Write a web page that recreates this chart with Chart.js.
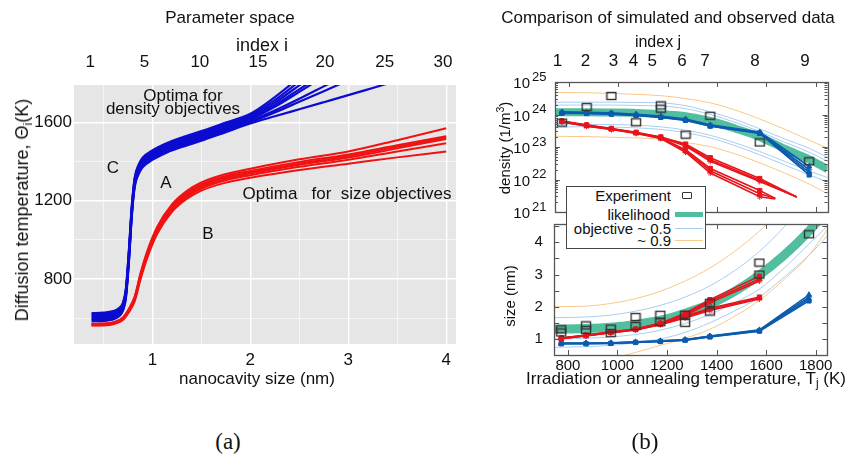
<!DOCTYPE html>
<html><head><meta charset="utf-8">
<script src="https://cdn.jsdelivr.net/npm/chart.js@4.4.1/dist/chart.umd.min.js"></script>
<style>
body{margin:0;background:#fff;}
#root{position:relative;width:846px;height:462px;overflow:hidden;font-family:"Liberation Sans",Arial,sans-serif;color:#111;}
canvas{position:absolute;}
.t{position:absolute;transform:translate(-50%,-50%);white-space:pre;line-height:1;}
.r{position:absolute;transform:translateY(-50%);white-space:pre;line-height:1;text-align:right;}
.rot{transform:translate(-50%,-50%) rotate(-90deg);}
sub{font-size:0.7em;vertical-align:-0.3em;line-height:0;}
sup{font-size:0.7em;vertical-align:0.5em;line-height:0;}
</style></head>
<body><div id="root">
<canvas id="ca" width="470" height="400" style="left:0;top:0"></canvas>
<canvas id="cd" width="376" height="218" style="left:470px;top:0"></canvas>
<canvas id="cs" width="376" height="244" style="left:470px;top:218px"></canvas>

<div class="t" style="left:230px;top:17px;font-size:17px">Parameter space</div>
<div class="t" style="left:262px;top:45px;font-size:18px">index i</div>
<div class="t rot" style="left:22px;top:210px;font-size:18px">Diffusion temperature, Θ<sub>i</sub>(K)</div>
<div class="t" style="left:257px;top:378px;font-size:17px">nanocavity size (nm)</div>
<div class="t" style="left:183px;top:95px;font-size:17px">Optima for</div>
<div class="t" style="left:173px;top:108px;font-size:17px">density objectives</div>
<div class="t" style="left:113px;top:167px;font-size:17px">C</div>
<div class="t" style="left:166px;top:182px;font-size:17px">A</div>
<div class="t" style="left:208px;top:233px;font-size:17px">B</div>
<div class="t" style="left:347px;top:193px;font-size:17px">Optima   for  size objectives</div>

<div class="t" style="left:668px;top:17px;font-size:17px">Comparison of simulated and observed data</div>
<div class="t" style="left:658px;top:42px;font-size:16px">index j</div>
<div class="t rot" style="left:504px;top:148px;font-size:15px">density (1/m<sup>3</sup>)</div>
<div class="t rot" style="left:509px;top:296px;font-size:15px">size (nm)</div>
<div class="t" style="left:686px;top:378px;font-size:17px">Irradiation or annealing temperature, T<sub>j</sub> (K)</div>

<div style="position:absolute;left:566px;top:186px;width:140px;height:63px;border:1px solid #444;background:#fff;box-sizing:border-box"></div>
<div class="r" style="right:175px;top:195px;font-size:15px">Experiment</div>
<div class="r" style="right:176px;top:214px;font-size:15px">likelihood</div>
<div class="r" style="right:175px;top:228px;font-size:15px">objective ~ 0.5</div>
<div class="r" style="right:175px;top:240px;font-size:15px">~ 0.9</div>
<div style="position:absolute;left:682px;top:192px;width:8px;height:5px;border:1.3px solid #333;border-radius:1px"></div>
<div style="position:absolute;left:675px;top:211.5px;width:28px;height:5px;background:#50be9f"></div>
<div style="position:absolute;left:675px;top:228px;width:28px;height:1px;background:#a9cdf0"></div>
<div style="position:absolute;left:675px;top:240px;width:28px;height:1px;background:#f8c98a"></div>

<div class="t" style="left:228px;top:441px;font-size:23px;font-family:'Liberation Serif','DejaVu Serif',serif">(a)</div>
<div class="t" style="left:645px;top:441px;font-size:23px;font-family:'Liberation Serif','DejaVu Serif',serif">(b)</div>
</div>
<script>
// ================= Panel (a): parameter space =================
const sizeBlue = [0.38, 0.5, 0.6, 0.66, 0.7, 0.73, 0.76, 0.79, 0.82, 0.86, 0.9, 1.0, 1.15, 1.3, 1.5, 1.75, 2.0, 2.25, 2.5, 2.75, 3.0, 3.25, 3.5];
const densOpt1 = [626, 628, 636, 652, 680, 752, 945, 1175, 1320, 1385, 1420, 1458, 1496, 1524, 1556, 1600, 1645, 1730, 1830, 1930, 2030, 2130, 2230];
const densOpt2 = [620, 622, 630, 646, 674, 745, 936, 1167, 1313, 1378, 1413, 1451, 1489, 1517, 1549, 1593, 1638, 1715, 1810, 1905, 2000, 2095, 2190];
const densOpt3 = [614, 616, 624, 640, 668, 738, 927, 1159, 1306, 1371, 1406, 1444, 1482, 1510, 1542, 1586, 1630, 1702, 1790, 1878, 1966, 2054, 2142];
const densOpt4 = [608, 610, 618, 634, 662, 731, 918, 1151, 1299, 1364, 1399, 1437, 1475, 1503, 1535, 1579, 1623, 1690, 1770, 1852, 1934, 2016, 2098];
const densOpt5 = [602, 604, 612, 628, 656, 724, 909, 1143, 1292, 1357, 1392, 1430, 1468, 1496, 1528, 1572, 1616, 1680, 1757, 1835, 1913, 1991, 2069];
const densOpt6 = [596, 598, 606, 622, 650, 717, 900, 1135, 1285, 1350, 1385, 1423, 1461, 1489, 1521, 1565, 1609, 1662, 1722, 1785, 1848, 1911, 1974];
const densOpt7 = [590, 592, 600, 616, 644, 710, 891, 1127, 1278, 1343, 1378, 1416, 1454, 1482, 1514, 1558, 1602, 1652, 1706, 1760, 1816, 1872, 1928];
const densOpt8 = [584, 586, 594, 610, 638, 703, 882, 1119, 1271, 1336, 1371, 1409, 1447, 1475, 1507, 1551, 1595, 1632, 1668, 1704, 1740, 1777, 1814];

const sizeRed = [0.38, 0.5, 0.6, 0.7, 0.76, 0.82, 0.88, 0.95, 1.05, 1.2, 1.35, 1.5, 1.75, 2.0, 2.5, 3.0, 3.5, 4.0];
const sizeOpt1 = [572, 573, 579, 604, 648, 712, 832, 946, 1068, 1182, 1250, 1294, 1337, 1364, 1412, 1452, 1510, 1571];
const sizeOpt2 = [570, 571, 577, 601, 644, 706, 826, 939, 1060, 1174, 1241, 1285, 1327, 1353, 1399, 1437, 1484, 1530];
const sizeOpt3 = [568, 569, 575, 599, 641, 702, 820, 933, 1053, 1167, 1234, 1278, 1320, 1346, 1391, 1429, 1476, 1522];
const sizeOpt4 = [566, 567, 573, 597, 638, 698, 815, 927, 1047, 1160, 1227, 1271, 1313, 1339, 1384, 1421, 1468, 1516];
const sizeOpt5 = [564, 565, 571, 594, 634, 693, 808, 920, 1040, 1152, 1219, 1263, 1305, 1331, 1374, 1410, 1452, 1494];
const sizeOpt6 = [562, 563, 569, 591, 630, 687, 800, 911, 1031, 1143, 1209, 1252, 1293, 1318, 1358, 1390, 1422, 1452];

const sizeGridTicks = [0.5, 1, 1.5, 2, 2.5, 3, 3.5, 4];
const tempGridTicks = [600, 800, 1000, 1200, 1400, 1600];
const indexILabels = ['1', '5', '10', '15', '20', '25', '30'];
const indexIPos = [0.365, 0.92, 1.485, 2.078, 2.763, 3.373, 3.967];

// ================= Panel (b): comparison =================
const tempK = [773, 873, 973, 1073, 1173, 1273, 1373, 1573, 1773];
const curveT = [745, 873, 973, 1073, 1173, 1273, 1373, 1473, 1573, 1673, 1773, 1847];
const indexJLabels = ['1', '2', '3', '4', '5', '6', '7', '8', '9'];
const indexJPos = [755, 868, 981, 1062, 1138, 1259, 1352, 1554, 1756];
const tempTicks = [800, 1000, 1200, 1400, 1600, 1800];
const densExps = [21, 22, 23, 24, 25];
const sizeTickLabels = [1, 2, 3, 4];
const sizeFrameTicks = [1, 1.5, 2, 2.5, 3, 3.5, 4, 4.5];

// density values as log10(1/m^3)
const expDensT = [773, 873, 973, 1073, 1173, 1173, 1273, 1373, 1573, 1773];
const expDensLog = [23.75, 24.23, 24.57, 23.76, 24.28, 24.18, 23.38, 23.96, 23.14, 22.56];
const likeDensLog = [24.07, 24.07, 24.06, 24.05, 24.01, 23.95, 23.80, 23.57, 23.31, 22.95, 22.62, 22.32];
const obj05DensUpA = [24.38, 24.38, 24.38, 24.37, 24.36, 24.27, 24.08, 23.85, 23.56, 23.25, 22.96, 22.68];
const obj05DensUpB = [24.29, 24.29, 24.29, 24.28, 24.26, 24.18, 24.00, 23.76, 23.47, 23.15, 22.84, 22.56];
const obj05DensLoA = [23.70, 23.70, 23.69, 23.67, 23.62, 23.52, 23.36, 23.13, 22.86, 22.56, 22.26, 22.06];
const obj05DensLoB = [23.62, 23.62, 23.61, 23.59, 23.54, 23.44, 23.28, 23.04, 22.76, 22.45, 22.14, 21.93];
const obj09DensUp = [24.68, 24.67, 24.65, 24.62, 24.58, 24.49, 24.36, 24.14, 23.86, 23.55, 23.21, 22.96];
const obj09DensLo = [23.33, 23.32, 23.30, 23.28, 23.24, 23.14, 23.01, 22.79, 22.51, 22.20, 21.86, 21.56];
const blueDens1 = [24.08, 24.07, 24.05, 24.01, 23.95, 23.86, 23.68, 23.46, 22.40];
const blueDens2 = [24.06, 24.05, 24.03, 23.99, 23.93, 23.84, 23.66, 23.44, 22.30];
const blueDens3 = [24.05, 24.04, 24.02, 23.98, 23.92, 23.83, 23.65, 23.43, 22.22];
const blueDens4 = [24.04, 24.03, 24.01, 23.97, 23.91, 23.82, 23.64, 23.42, 22.14];
const redDensTA = [773, 873, 973, 1073, 1173, 1273, 1373, 1573, 1723];
const redDensTB = [773, 873, 973, 1073, 1173, 1273, 1373, 1573, 1636];
const redDens1 = [23.80, 23.68, 23.57, 23.45, 23.31, 23.09, 22.67, 22.03, 21.46];
const redDens2 = [23.79, 23.67, 23.56, 23.44, 23.30, 23.06, 22.61, 21.98, 21.46];
const redDens3 = [23.78, 23.66, 23.55, 23.43, 23.29, 23.03, 22.56, 21.94, 21.46];
const redDens4 = [23.79, 23.66, 23.56, 23.44, 23.28, 22.92, 22.34, 21.66, 21.42];
const redDens5 = [23.78, 23.65, 23.55, 23.43, 23.27, 22.88, 22.27, 21.56, 21.42];
const redDens6 = [23.77, 23.64, 23.54, 23.42, 23.26, 22.84, 22.20, 21.47, 21.40];

// size values (nm)
const expSizeT = [773, 773, 873, 873, 973, 973, 1073, 1073, 1173, 1173, 1273, 1273, 1373, 1373, 1573, 1573, 1773];
const expSize = [1.30, 1.20, 1.42, 1.28, 1.32, 1.18, 1.68, 1.40, 1.75, 1.52, 1.75, 1.50, 2.12, 1.85, 3.37, 3.00, 4.25];
const likeSize = [1.30, 1.32, 1.36, 1.45, 1.58, 1.80, 2.08, 2.48, 2.98, 3.60, 4.35, 5.00];
const obj05SizeUp = [1.66, 1.68, 1.74, 1.86, 2.04, 2.30, 2.65, 3.12, 3.72, 4.48, 5.40, 6.10];
const obj05SizeLoA = [1.00, 1.02, 1.06, 1.14, 1.27, 1.48, 1.76, 2.12, 2.55, 3.20, 3.95, 4.50];
const obj05SizeLoB = [0.74, 0.76, 0.80, 0.88, 1.00, 1.20, 1.50, 1.87, 2.30, 2.92, 3.60, 4.20];
const obj09SizeUp = [2.00, 2.02, 2.10, 2.25, 2.48, 2.80, 3.20, 3.72, 4.35, 5.10, 6.00, 6.70];
const obj09SizeLo = [0.20, 0.25, 0.38, 0.58, 0.80, 1.02, 1.30, 1.70, 2.20, 2.85, 3.60, 4.40];
const blueSize1 = [0.87, 0.87, 0.88, 0.91, 0.94, 0.98, 1.09, 1.28, 2.37];
const blueSize2 = [0.86, 0.86, 0.87, 0.90, 0.93, 0.97, 1.08, 1.27, 2.30];
const blueSize3 = [0.85, 0.86, 0.87, 0.89, 0.92, 0.96, 1.07, 1.25, 2.24];
const blueSize4 = [0.85, 0.85, 0.86, 0.89, 0.92, 0.96, 1.06, 1.24, 2.18];
const redSize1 = [1.03, 1.12, 1.22, 1.31, 1.49, 1.80, 2.22, 2.95];
const redSize2 = [1.03, 1.11, 1.21, 1.30, 1.48, 1.76, 2.17, 2.86];
const redSize3 = [1.02, 1.11, 1.20, 1.29, 1.47, 1.72, 2.12, 2.80];
const redSize4 = [1.02, 1.10, 1.20, 1.29, 1.46, 1.70, 1.95, 2.30];
const redSize5 = [1.01, 1.10, 1.19, 1.28, 1.45, 1.67, 1.91, 2.27];
const redSize6 = [1.01, 1.09, 1.19, 1.28, 1.44, 1.65, 1.88, 2.24];

// ================= helpers =================
const FONT = '"Liberation Sans", Arial, sans-serif';
Chart.defaults.font.family = FONT;
Chart.defaults.color = '#111';
const pts = (xs, ys) => ys.map((y, i) => ({x: xs[i], y}));
const logPts = (xs, ys) => ys.map((y, i) => ({x: xs[i], y: Math.pow(10, y)}));
const zeroPad = s => { s.paddingLeft = s.paddingRight = s.paddingTop = s.paddingBottom = 0; };

const panelBg = {id: 'panelBg', beforeDraw(chart) {
  const a = chart.chartArea, c = chart.ctx;
  c.save(); c.fillStyle = '#e6e6e6'; c.fillRect(a.left, a.top, a.right - a.left, a.bottom - a.top); c.restore();
}};

function framePlugin(yMajor, yMinor) {
  return {id: 'frameTicks', afterDatasetsDraw(chart) {
    const a = chart.chartArea, c = chart.ctx, xs = chart.scales.x, ys = chart.scales.y;
    c.save(); c.strokeStyle = '#555'; c.lineWidth = 1;
    const seg = (x1, y1, x2, y2) => { c.beginPath(); c.moveTo(x1, y1); c.lineTo(x2, y2); c.stroke(); };
    tempTicks.forEach(v => { const p = Math.round(xs.getPixelForValue(v)) + 0.5; seg(p, a.bottom, p, a.bottom - 5); seg(p, a.top, p, a.top + 5); });
    yMajor.forEach(v => { const p = Math.round(ys.getPixelForValue(v)) + 0.5; seg(a.left, p, a.left + 5, p); seg(a.right, p, a.right - 5, p); });
    yMinor.forEach(v => { const p = Math.round(ys.getPixelForValue(v)) + 0.5; seg(a.left, p, a.left + 3, p); seg(a.right, p, a.right - 3, p); });
    c.lineWidth = 1.3;
    c.strokeRect(Math.round(a.left) + 0.5, Math.round(a.top) + 0.5, Math.round(a.right - a.left), Math.round(a.bottom - a.top));
    c.restore();
  }};
}

const logLabels = {id: 'logLabels', afterDraw(chart) {
  const c = chart.ctx, ys = chart.scales.y;
  c.save(); c.fillStyle = '#111'; c.textBaseline = 'middle';
  densExps.forEach(e => {
    const p = ys.getPixelForValue(Math.pow(10, e));
    c.font = '15px ' + FONT; c.textAlign = 'right'; c.fillText('10', 60, p + 2);
    c.font = '13px ' + FONT; c.textAlign = 'left'; c.fillText(String(e), 62, p - 5);
  });
  c.restore();
}};

function squareMarker() {
  const cv = document.createElement('canvas'); cv.width = 12; cv.height = 10;
  const g = cv.getContext('2d'); g.strokeStyle = '#333'; g.lineWidth = 1.4; g.strokeRect(1.5, 1.5, 9, 7);
  return cv;
}
const SQ = squareMarker();

const baseOpts = {responsive: false, animation: false, events: [], plugins: {legend: {display: false}, tooltip: {enabled: false}}};

// ================= chart (a) =================
const BLUE_A = '#0c0cd0', RED_A = '#f01212';
const blueSets = [densOpt1, densOpt2, densOpt3, densOpt4, densOpt5, densOpt6, densOpt7, densOpt8].map(d => ({
  data: pts(sizeBlue, d), borderColor: BLUE_A, borderWidth: 2.2, pointRadius: 0, cubicInterpolationMode: 'monotone', clip: 0}));
const redSets = [sizeOpt1, sizeOpt2, sizeOpt3, sizeOpt4, sizeOpt5, sizeOpt6].map(d => ({
  data: pts(sizeRed, d), borderColor: RED_A, borderWidth: 2, pointRadius: 0, cubicInterpolationMode: 'monotone', clip: 0}));

new Chart(document.getElementById('ca'), {
  type: 'line',
  data: {datasets: [...blueSets, ...redSets]},
  plugins: [panelBg],
  options: {...baseOpts,
    layout: {padding: {left: 0, right: 14, top: 0, bottom: 0}},
    scales: {
      x: {type: 'linear', position: 'bottom', min: 0.2, max: 4.1,
        afterBuildTicks: s => { s.ticks = sizeGridTicks.map(v => ({value: v})); },
        afterFit: s => { s.height = 56; zeroPad(s); },
        ticks: {autoSkip: false, maxRotation: 0, padding: 6, font: {size: 17}, color: '#111',
          callback: v => Number.isInteger(v) ? String(v) : ''},
        grid: {drawTicks: false, color: c => Number.isInteger(c.tick.value) ? '#ffffff' : 'rgba(255,255,255,0.6)',
          lineWidth: c => Number.isInteger(c.tick.value) ? 1.4 : 1},
        border: {display: false}},
      xTop: {type: 'linear', position: 'top', min: 0.2, max: 4.1,
        afterBuildTicks: s => { s.ticks = indexIPos.map(v => ({value: v})); },
        afterFit: s => { s.height = 85; zeroPad(s); },
        ticks: {autoSkip: false, maxRotation: 0, padding: 12.5, font: {size: 17}, color: '#111',
          callback: (v, i) => indexILabels[i]},
        grid: {display: false, drawTicks: false}, border: {display: false}},
      y: {type: 'linear', min: 468, max: 1792,
        afterBuildTicks: s => { s.ticks = tempGridTicks.map(v => ({value: v})); },
        afterFit: s => { s.width = 74; zeroPad(s); },
        ticks: {autoSkip: false, padding: 2, font: {size: 17}, color: '#111',
          callback: v => (v % 400 === 0) ? String(v) : ''},
        grid: {drawTicks: false, color: c => (c.tick.value % 400 === 0) ? '#ffffff' : 'rgba(255,255,255,0.6)',
          lineWidth: c => (c.tick.value % 400 === 0) ? 1.4 : 1},
        border: {display: false}}
    }}
});

// ================= chart (b) top: density =================
const BLUE_B = '#0b5cae', RED_B = '#e8141c', TEAL = '#50be9f', LBLUE = '#a9cdf0', ORANGE = '#f8c98a';
const thin = (xs, ys, col, log) => ({data: log ? logPts(xs, ys) : pts(xs, ys), borderColor: col, borderWidth: 1, pointRadius: 0, cubicInterpolationMode: 'monotone', clip: 0});
const simLine = (xs, ys, col, style, log, nPts) => ({data: log ? logPts(xs, ys) : pts(xs, ys), borderColor: col, backgroundColor: col,
  borderWidth: 1.6, pointStyle: style, pointRadius: ys.map((v, i) => i < nPts ? 3 : 0), pointBorderWidth: 1, clip: 0});

new Chart(document.getElementById('cd'), {
  type: 'line',
  data: {datasets: [
    {type: 'scatter', data: logPts(expDensT, expDensLog), pointStyle: SQ, pointRadius: 5, showLine: false, clip: 0},
    simLine(tempK, blueDens1, BLUE_B, 'triangle', true, 9),
    simLine(tempK, blueDens2, BLUE_B, 'star', true, 9),
    simLine(tempK, blueDens3, BLUE_B, 'triangle', true, 9),
    simLine(tempK, blueDens4, BLUE_B, 'rect', true, 9),
    simLine(redDensTA, redDens1, RED_B, 'rect', true, 8),
    simLine(redDensTA, redDens2, RED_B, 'triangle', true, 8),
    simLine(redDensTA, redDens3, RED_B, 'star', true, 8),
    simLine(redDensTB, redDens4, RED_B, 'rect', true, 8),
    simLine(redDensTB, redDens5, RED_B, 'triangle', true, 8),
    simLine(redDensTB, redDens6, RED_B, 'star', true, 8),
    {data: logPts(curveT, likeDensLog), borderColor: TEAL, borderWidth: 8, pointRadius: 0, cubicInterpolationMode: 'monotone', clip: 0},
    thin(curveT, obj05DensUpA, LBLUE, true), thin(curveT, obj05DensUpB, LBLUE, true),
    thin(curveT, obj05DensLoA, LBLUE, true), thin(curveT, obj05DensLoB, LBLUE, true),
    thin(curveT, obj09DensUp, ORANGE, true), thin(curveT, obj09DensLo, ORANGE, true)
  ]},
  plugins: [framePlugin(densExps.map(e => Math.pow(10, e)),
    [21, 22, 23, 24].flatMap(d => [2, 3, 4, 5, 6, 7, 8, 9].map(m => m * Math.pow(10, d)))), logLabels],
  options: {...baseOpts,
    layout: {padding: {left: 0, right: 18.5, top: 0, bottom: 0}},
    scales: {
      x: {type: 'linear', position: 'bottom', min: 745, max: 1847,
        afterFit: s => { s.height = 2.5; zeroPad(s); },
        ticks: {display: false}, grid: {display: false, drawTicks: false}, border: {display: false}},
      xTop: {type: 'linear', position: 'top', min: 745, max: 1847,
        afterBuildTicks: s => { s.ticks = indexJPos.map(v => ({value: v})); },
        afterFit: s => { s.height = 82; zeroPad(s); },
        ticks: {autoSkip: false, maxRotation: 0, padding: 10, font: {size: 17}, color: '#111',
          callback: (v, i) => indexJLabels[i]},
        grid: {display: false, drawTicks: false}, border: {display: false}},
      y: {type: 'logarithmic', min: 1e21, max: 1e25,
        afterFit: s => { s.width = 85; zeroPad(s); },
        ticks: {display: false}, grid: {display: false, drawTicks: false}, border: {display: false}}
    }}
});

// ================= chart (b) bottom: size =================
new Chart(document.getElementById('cs'), {
  type: 'line',
  data: {datasets: [
    {type: 'scatter', data: pts(expSizeT, expSize), pointStyle: SQ, pointRadius: 5, showLine: false, clip: 0},
    simLine(tempK, redSize1, RED_B, 'rect', false, 8),
    simLine(tempK, redSize2, RED_B, 'triangle', false, 8),
    simLine(tempK, redSize3, RED_B, 'star', false, 8),
    simLine(tempK, redSize4, RED_B, 'rect', false, 8),
    simLine(tempK, redSize5, RED_B, 'triangle', false, 8),
    simLine(tempK, redSize6, RED_B, 'star', false, 8),
    simLine(tempK, blueSize1, BLUE_B, 'triangle', false, 9),
    simLine(tempK, blueSize2, BLUE_B, 'star', false, 9),
    simLine(tempK, blueSize3, BLUE_B, 'triangle', false, 9),
    simLine(tempK, blueSize4, BLUE_B, 'rect', false, 9),
    {data: pts(curveT, likeSize), borderColor: TEAL, borderWidth: 9, pointRadius: 0, cubicInterpolationMode: 'monotone', clip: 0},
    thin(curveT, obj05SizeUp, LBLUE, false), thin(curveT, obj05SizeLoA, LBLUE, false), thin(curveT, obj05SizeLoB, LBLUE, false),
    thin(curveT, obj09SizeUp, ORANGE, false), thin(curveT, obj09SizeLo, ORANGE, false)
  ]},
  plugins: [framePlugin(sizeFrameTicks, [])],
  options: {...baseOpts,
    layout: {padding: {left: 0, right: 18.7, top: 1.3, bottom: 0}},
    scales: {
      x: {type: 'linear', position: 'bottom', min: 745, max: 1847,
        afterBuildTicks: s => { s.ticks = tempTicks.map(v => ({value: v})); },
        afterFit: s => { s.height = 107; zeroPad(s); },
        ticks: {autoSkip: false, maxRotation: 0, padding: 1.5, font: {size: 15}, color: '#111',
          callback: v => String(v)},
        grid: {display: false, drawTicks: false}, border: {display: false}},
      y: {type: 'linear', min: 0.5, max: 4.57,
        afterBuildTicks: s => { s.ticks = sizeTickLabels.map(v => ({value: v})); },
        afterFit: s => { s.width = 84.3; zeroPad(s); },
        ticks: {autoSkip: false, padding: 11.5, font: {size: 15}, color: '#111', callback: v => String(v)},
        grid: {display: false, drawTicks: false}, border: {display: false}}
    }}
});
</script>
</body></html>
